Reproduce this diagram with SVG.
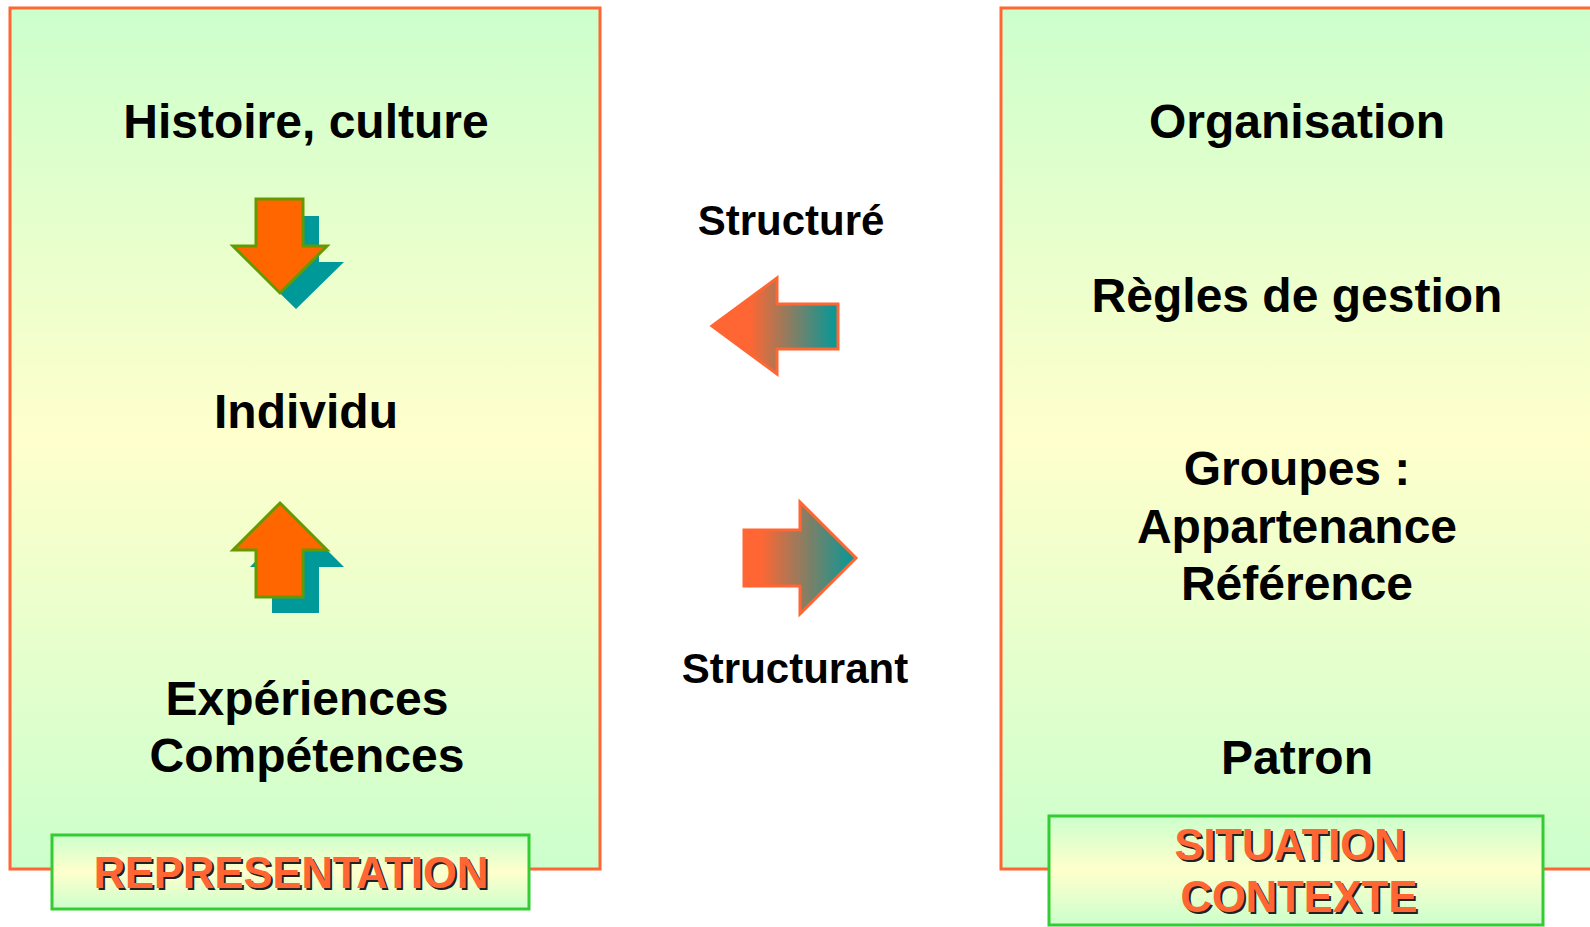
<svg xmlns="http://www.w3.org/2000/svg" width="1590" height="927" viewBox="0 0 1590 927">
<defs>
<linearGradient id="boxGrad" x1="0" y1="0" x2="0" y2="1">
<stop offset="0" stop-color="#ccffcc"/>
<stop offset="0.5" stop-color="#ffffcc"/>
<stop offset="1" stop-color="#ccffcc"/>
</linearGradient>
<linearGradient id="labGrad" x1="0" y1="0" x2="0" y2="1">
<stop offset="0" stop-color="#ccffcc"/>
<stop offset="0.5" stop-color="#ffffcc"/>
<stop offset="1" stop-color="#ccffcc"/>
</linearGradient>
<linearGradient id="arrL" x1="0" y1="0" x2="1" y2="0">
<stop offset="0.3" stop-color="#ff6633"/>
<stop offset="1" stop-color="#009999"/>
</linearGradient>
<linearGradient id="arrR" x1="0" y1="0" x2="1" y2="0">
<stop offset="0.15" stop-color="#ff6633"/>
<stop offset="1" stop-color="#009999"/>
</linearGradient>
<style>
.box{fill:url(#boxGrad);stroke:#ff6633;stroke-width:3}
.lab{fill:url(#labGrad);stroke:#33cc33;stroke-width:3}
.t{font-family:"Liberation Sans",Arial,sans-serif;font-weight:bold;font-size:48px;fill:#000;text-anchor:middle}
.s{font-family:"Liberation Sans",Arial,sans-serif;font-weight:bold;font-size:42px;fill:#000;text-anchor:middle}
.lt{font-family:"Liberation Sans",Arial,sans-serif;font-weight:bold;font-size:43.5px;fill:#ff6633;text-anchor:middle}
.ls{font-family:"Liberation Sans",Arial,sans-serif;font-weight:bold;font-size:43.5px;fill:#222;text-anchor:middle}
.orange{fill:#ff6600;stroke:#669900;stroke-width:3;stroke-linejoin:miter}
.teal{fill:#009999}
</style>
</defs>
<rect width="1590" height="927" fill="#ffffff"/>

<g id="representation-panel">
<rect class="box" x="10" y="8" width="590" height="861"/>
<text class="t" x="306" y="138">Histoire, culture</text>
<text class="t" x="306" y="428">Individu</text>
<text class="t" x="307" y="715">Expériences</text>
<text class="t" x="307" y="772">Compétences</text>
</g>

<g id="arrow-down">
<polygon class="teal" points="272,216 319,216 319,262 344,262 296,309 248,262 272,262"/>
<polygon class="orange" points="256,199 303,199 303,246 327,246 280,293 233,246 256,246"/>
</g>

<g id="arrow-up">
<polygon class="teal" points="296,519 344,567 319,567 319,613 272,613 272,567 250,567"/>
<polygon class="orange" points="280,503 327,550 303,550 303,597 256,597 256,550 233,550"/>
</g>

<g id="representation-label">
<rect class="lab" x="52" y="835" width="477" height="74"/>
<text class="ls" x="293" y="890">REPRESENTATION</text>
<text class="lt" x="291" y="888">REPRESENTATION</text>
</g>

<g id="situation-panel">
<rect class="box" x="1001" y="8" width="600" height="861"/>
<text class="t" x="1297" y="138">Organisation</text>
<text class="t" x="1297" y="312">Règles de gestion</text>
<text class="t" x="1297" y="485">Groupes :</text>
<text class="t" x="1297" y="543">Appartenance</text>
<text class="t" x="1297" y="600">Référence</text>
<text class="t" x="1297" y="774">Patron</text>
</g>

<g id="situation-label">
<rect class="lab" x="1049" y="816" width="494" height="109"/>
<text class="ls" x="1292" y="862">SITUATION</text>
<text class="lt" x="1290" y="860">SITUATION</text>
<text class="ls" x="1301" y="914">CONTEXTE</text>
<text class="lt" x="1299" y="912">CONTEXTE</text>
</g>

<g id="connectors">
<polygon points="712,326 777,278 777,304 838,304 838,349 777,349 777,374" fill="url(#arrL)" stroke="#ff6633" stroke-width="3"/>
<polygon points="744,530 800,530 800,502 856,558 800,614 800,586 744,586" fill="url(#arrR)" stroke="#ff6633" stroke-width="3"/>
<text class="s" x="791" y="235">Structuré</text>
<text class="s" x="795" y="683">Structurant</text>
</g>
</svg>
